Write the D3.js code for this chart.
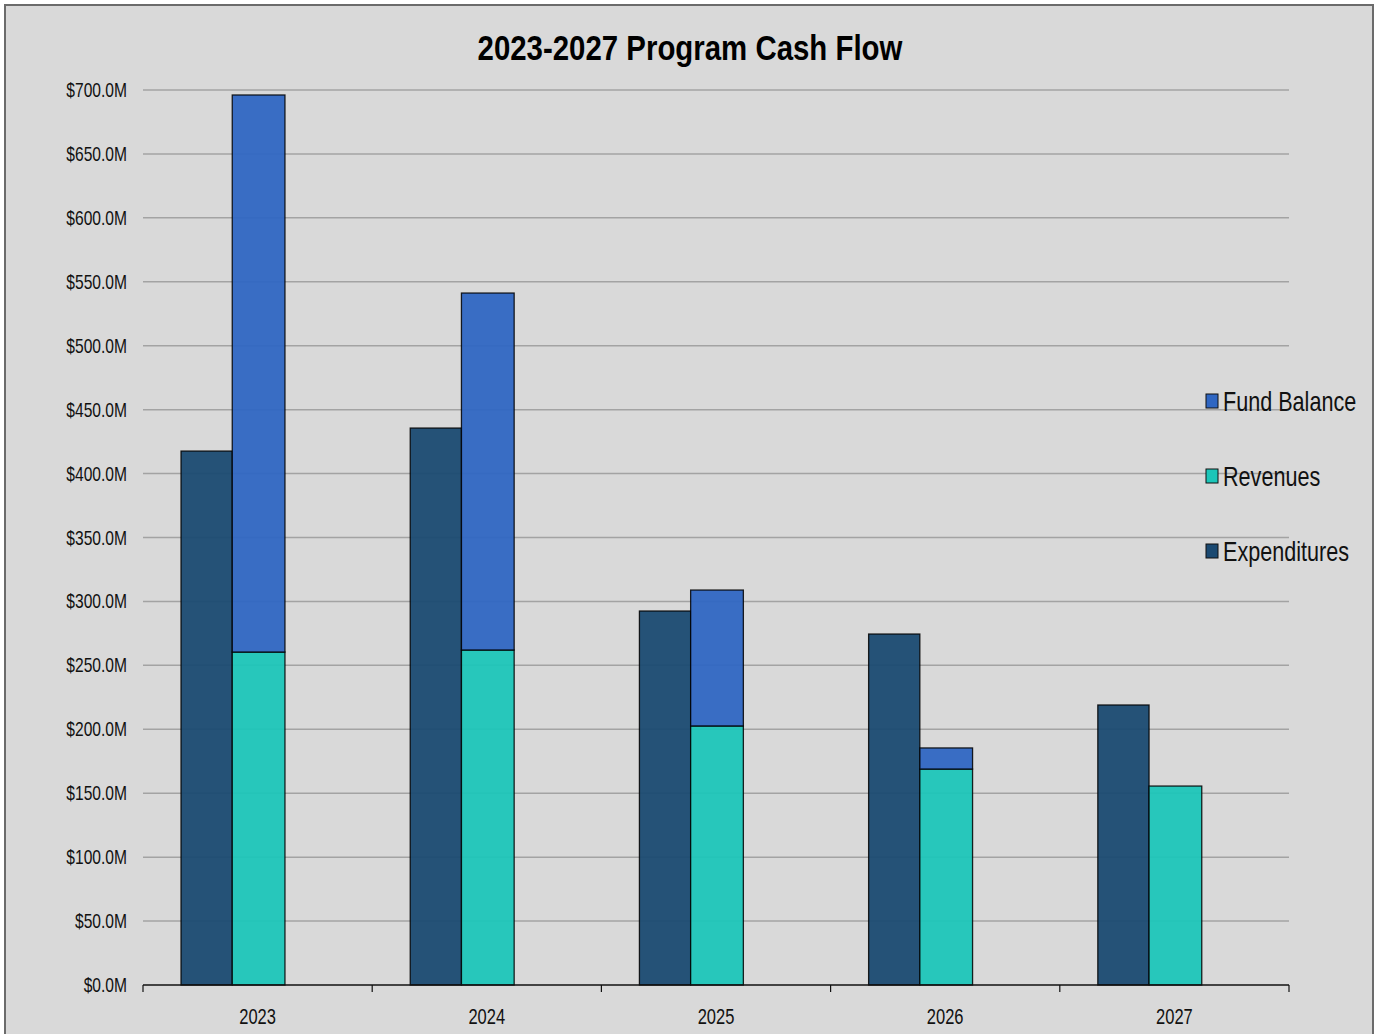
<!DOCTYPE html>
<html>
<head>
<meta charset="utf-8">
<script src="https://cdn.jsdelivr.net/npm/d3@7"></script>
<style>
  body { margin: 0; background: #fff; }
  svg { display: block; }
  .grid line { stroke: #a3a3a3; stroke-width: 1.5; }
  text { font-family: "Liberation Sans", Arial, sans-serif; }
</style>
</head>
<body>
<svg width="1380" height="1034"></svg>
<script>
const years = ["2023", "2024", "2025", "2026", "2027"];
const expenditures = [417.6, 435.6, 292.5, 274.5, 219.0];
const revenues = [260.4, 262.0, 202.6, 168.9, 155.6];
const fundBalance = [435.7, 279.2, 106.3, 16.5, 0];
const yTicks = [0, 50, 100, 150, 200, 250, 300, 350, 400, 450, 500, 550, 600, 650, 700];
const legendItems = ["Fund Balance", "Revenues", "Expenditures"];
const colors = { "Expenditures": "#1a4971", "Revenues": "#1cc6b9", "Fund Balance": "#2f66c2" };

const svg = d3.select("svg");
const W = 1380, H = 1034;
const plotL = 143, plotR = 1289, plotT = 90, plotB = 985;

// condensed text: no narrow font installed, so squeeze horizontally
function narrowText(sel, sx) {
    return sel.attr("transform", function () {
        const tx = +this.getAttribute("data-x"), ty = +this.getAttribute("data-y");
        return `translate(${tx},${ty}) scale(${sx},1)`;
    });
}

// frame
svg.append("rect").attr("x", 0).attr("y", 0).attr("width", W).attr("height", H).attr("fill", "#fff");
svg.append("rect").attr("x", 5).attr("y", 5).attr("width", 1368).attr("height", H + 10)
    .attr("fill", "#d9d9d9").attr("stroke", "#6b6b6b").attr("stroke-width", 2);

const x = d3.scaleBand().domain(years).range([plotL, plotR]);
const y = d3.scaleLinear().domain([0, 700]).range([plotB, plotT]);
const bw = x.bandwidth() * 0.23;
const ew = bw - 1.5;
const cx = d => x(d) + x.bandwidth() / 2 + 1;

// gridlines
svg.append("g").attr("class", "grid")
    .selectAll("line").data(yTicks.filter(d => d > 0)).join("line")
    .attr("x1", plotL).attr("x2", plotR)
    .attr("y1", d => y(d)).attr("y2", d => y(d));

// y labels
svg.append("g").selectAll("text").data(yTicks).join("text")
    .attr("data-x", 127).attr("data-y", d => y(d) + 7)
    .attr("text-anchor", "end")
    .attr("font-size", 20)
    .attr("fill", "#111")
    .text(d => "$" + d.toFixed(1) + "M")
    .call(narrowText, 0.78);

const table = years.map((yr, i) => ({ year: yr, Revenues: revenues[i], "Fund Balance": fundBalance[i] }));
const stacked = d3.stack().keys(["Revenues", "Fund Balance"])(table);

const bars = svg.append("g");
// expenditures
bars.selectAll(".exp").data(years).join("rect")
    .attr("class", "exp")
    .attr("x", d => cx(d) - 0.5 * bw - ew)
    .attr("width", ew)
    .attr("y", (d, i) => y(expenditures[i]))
    .attr("height", (d, i) => y(0) - y(expenditures[i]))
    .attr("fill", colors["Expenditures"]).attr("fill-opacity", 0.94)
    .attr("stroke", "#000").attr("stroke-width", 1.3).attr("stroke-opacity", 0.85);

stacked.forEach(s => {
    bars.append("g").selectAll("rect").data(s.filter(d => d[1] - d[0] > 0)).join("rect")
        .attr("x", d => cx(d.data.year) - 0.5 * bw)
        .attr("width", bw)
        .attr("y", d => y(d[1]))
        .attr("height", d => y(d[0]) - y(d[1]))
        .attr("fill", colors[s.key]).attr("fill-opacity", 0.94)
        .attr("stroke", "#000").attr("stroke-width", 1.3).attr("stroke-opacity", 0.85);
});

// x axis
const xAxis = svg.append("g");
xAxis.append("line").attr("x1", plotL).attr("x2", plotR).attr("y1", plotB).attr("y2", plotB)
    .attr("stroke", "#111").attr("stroke-width", 1.5);
const edges = years.map(d => x(d)).concat([plotR]);
xAxis.selectAll(".tk").data(edges).join("line")
    .attr("x1", d => d).attr("x2", d => d).attr("y1", plotB).attr("y2", plotB + 7)
    .attr("stroke", "#111").attr("stroke-width", 1.2);
xAxis.selectAll("text").data(years).join("text")
    .attr("data-x", d => x(d) + x.bandwidth() / 2).attr("data-y", 1024)
    .attr("text-anchor", "middle")
    .attr("font-size", 22)
    .attr("fill", "#111")
    .text(d => d)
    .call(narrowText, 0.75);

// title
svg.append("text")
    .attr("data-x", 690).attr("data-y", 60)
    .attr("text-anchor", "middle")
    .attr("font-size", 36).attr("font-weight", "bold")
    .attr("fill", "#000")
    .text("2023-2027 Program Cash Flow")
    .call(narrowText, 0.817);

// legend
const lg = svg.append("g").selectAll("g").data(legendItems).join("g")
    .attr("transform", (d, i) => `translate(1206, ${401 + i * 75})`);
lg.append("rect").attr("x", 0).attr("y", -7).attr("width", 12).attr("height", 14)
    .attr("fill", d => colors[d]).attr("stroke", "#111").attr("stroke-width", 1);
lg.append("text")
    .attr("data-x", 17).attr("data-y", 10)
    .attr("font-size", 27).attr("fill", "#111")
    .text(d => d)
    .call(narrowText, 0.8);
</script>
</body>
</html>
